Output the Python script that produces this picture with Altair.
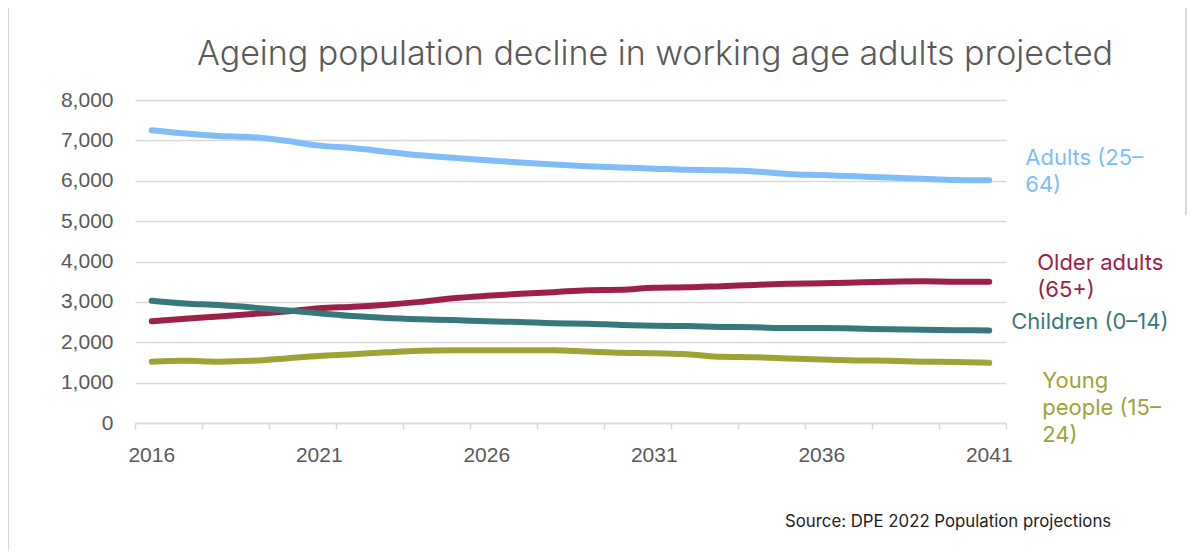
import altair as alt
import pandas as pd

years = [2016, 2017, 2018, 2019, 2020, 2021, 2022, 2023, 2024, 2025, 2026, 2027, 2028,
         2029, 2030, 2031, 2032, 2033, 2034, 2035, 2036, 2037, 2038, 2039, 2040, 2041]
adults = [7250, 7170, 7110, 7080, 6990, 6870, 6810, 6720, 6630, 6570, 6510, 6450, 6400,
          6360, 6330, 6300, 6270, 6260, 6230, 6170, 6140, 6110, 6080, 6050, 6020, 6010]
older = [2520, 2580, 2640, 2700, 2760, 2840, 2880, 2930, 3000, 3090, 3150, 3200, 3240,
         3290, 3300, 3350, 3360, 3390, 3420, 3450, 3460, 3480, 3500, 3510, 3500, 3500]
children = [3030, 2960, 2920, 2860, 2790, 2720, 2650, 2600, 2570, 2550, 2520, 2500, 2470,
            2460, 2430, 2410, 2400, 2380, 2370, 2350, 2350, 2340, 2320, 2310, 2300, 2290]
young = [1520, 1540, 1520, 1540, 1600, 1660, 1700, 1750, 1790, 1800, 1800, 1800, 1800,
         1770, 1740, 1730, 1700, 1640, 1630, 1600, 1570, 1550, 1540, 1520, 1510, 1490]

series_names = ["Adults (25-64)", "Older adults (65+)", "Children (0-14)", "Young people (15-24)"]
series_labels = ["Adults (25–\n64)", "Older adults\n(65+)", "Children (0–14)", "Young\npeople (15–\n24)"]
series_colors = ["#80BDF7", "#9B2246", "#37787A", "#9EA338"]
series_values = [adults, older, children, young]

tick_positions = [2015.5, 2016.5, 2017.5, 2018.5, 2019.5, 2020.5, 2021.5, 2022.5, 2023.5,
                  2024.5, 2025.5, 2026.5, 2027.5, 2028.5, 2029.5, 2030.5, 2031.5, 2032.5,
                  2033.5, 2034.5, 2035.5, 2036.5, 2037.5, 2038.5, 2039.5, 2040.5, 2041.5]
x_label_years = [2016, 2021, 2026, 2031, 2036, 2041]
y_ticks = [0, 1000, 2000, 3000, 4000, 5000, 6000, 7000, 8000]

title_text = "Ageing population decline in working age adults projected"
source_text = "Source: DPE 2022 Population projections"

rows = []
for name, label, vals in zip(series_names, series_labels, series_values):
    for yr, v in zip(years, vals):
        rows.append({"year": yr, "value": v, "series": name, "label": label})
df = pd.DataFrame(rows)

W, H = 871, 323

color_scale = alt.Scale(domain=series_names, range=series_colors)
x_scale = alt.Scale(domain=[2015.5, 2041.5], nice=False, zero=False)

x_enc = alt.X("year:Q", scale=x_scale,
              axis=alt.Axis(values=tick_positions, title=None, grid=False, labels=False,
                            tickSize=6, tickWidth=1.5, tickColor="#d9d9d9",
                            domainColor="#d9d9d9", domainWidth=1.5))
y_enc = alt.Y("value:Q",
              scale=alt.Scale(domain=[0, 8000], nice=False),
              axis=alt.Axis(values=y_ticks, labelExpr="format(datum.value, ',')", title=None,
                            domain=False, ticks=False,
                            labelPadding=22, labelFontSize=21, labelFont="Liberation Sans",
                            labelColor="#595959", gridColor="#d9d9d9", gridWidth=1.5))

lines = alt.Chart(df).mark_line(strokeWidth=6, interpolate="monotone", strokeCap="round").encode(
    x=x_enc, y=y_enc,
    color=alt.Color("series:N", scale=color_scale, legend=None),
    detail="series:N",
)

x_labels = alt.Chart(pd.DataFrame({"year": x_label_years})).mark_text(
    align="center", baseline="alphabetic", fontSize=21, font="Liberation Sans", color="#595959"
).encode(
    x=alt.X("year:Q", scale=x_scale),
    y=alt.value(H + 39),
    text=alt.Text("year:Q", format="d"),
)

last = df[df["year"] == years[-1]]
label_offsets = {
    "Adults (25-64)": (36, -15),
    "Older adults (65+)": (48, -12),
    "Children (0-14)": (22, -2),
    "Young people (15-24)": (53, 25),
}
label_layers = []
for name in series_names:
    dx, dy = label_offsets[name]
    label_layers.append(
        alt.Chart(last[last["series"] == name]).mark_text(
            align="left", baseline="alphabetic", dx=dx, dy=dy, lineBreak="\n",
            fontSize=22, lineHeight=27, font="Inter"
        ).encode(
            x="year:Q", y="value:Q", text="label:N",
            color=alt.Color("series:N", scale=color_scale, legend=None),
        )
    )

title = alt.Chart(pd.DataFrame({"t": [title_text]})).mark_text(
    align="center", baseline="alphabetic", fontSize=34, font="Inter", fontWeight=300,
    color="#595959"
).encode(x=alt.value(520), y=alt.value(-35), text="t:N")

source = alt.Chart(pd.DataFrame({"t": [source_text]})).mark_text(
    align="left", baseline="alphabetic", fontSize=16.8, font="Inter", color="#222222"
).encode(x=alt.value(650), y=alt.value(427), text="t:N")

frame_top = alt.Chart(pd.DataFrame({"a": [0]})).mark_rule(color="#d9d9d9", strokeWidth=2).encode(
    x=alt.value(-127), x2=alt.value(1051), y=alt.value(-95))
frame_left = alt.Chart(pd.DataFrame({"a": [0]})).mark_rule(color="#d9d9d9", strokeWidth=2).encode(
    x=alt.value(-127), y=alt.value(-95), y2=alt.value(460))
frame_right = alt.Chart(pd.DataFrame({"a": [0]})).mark_rule(color="#d9d9d9", strokeWidth=2).encode(
    x=alt.value(1051), y=alt.value(-95), y2=alt.value(115))

chart = alt.layer(frame_top, frame_left, frame_right, lines, x_labels, *label_layers, title, source).properties(
    width=W, height=H,
    padding={"left": 127, "top": 92, "right": 181, "bottom": 128},
    autosize=alt.AutoSizeParams(type="none"),
    background="white",
).configure_view(stroke=None)

chart.save("out.html", embed_options={"renderer": "svg", "actions": False})
